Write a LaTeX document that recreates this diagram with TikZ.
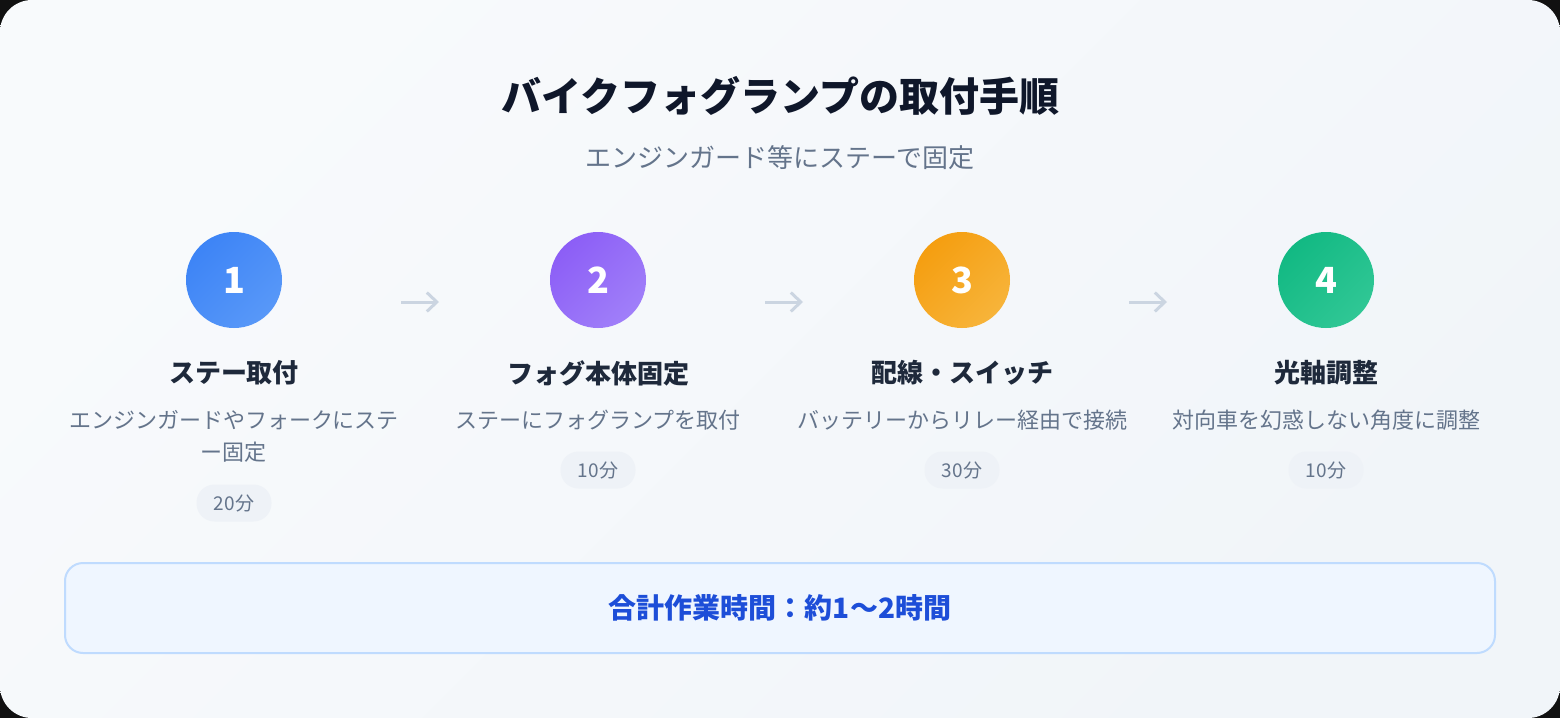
\documentclass[tikz,border=0pt]{standalone}
\usepackage{fontspec}
\setmainfont{Noto Sans CJK JP}
\usetikzlibrary{arrows.meta}

\definecolor{cornerbg}{HTML}{111111}
\definecolor{bgA}{HTML}{F8FAFC}
\definecolor{bgB}{HTML}{F1F5F9}
\definecolor{titleink}{HTML}{0F172A}
\definecolor{headink}{HTML}{1E293B}
\definecolor{slate}{HTML}{64748B}
\definecolor{badgebg}{HTML}{EEF2F7}
\definecolor{arrowgray}{HTML}{CBD5E1}
\definecolor{blueA}{HTML}{3D84F6}
\definecolor{blueB}{HTML}{5898F8}
\definecolor{purpleA}{HTML}{8C5EF6}
\definecolor{purpleB}{HTML}{A07FF9}
\definecolor{orangeA}{HTML}{F59E10}
\definecolor{orangeB}{HTML}{F7B43A}
\definecolor{greenA}{HTML}{12B983}
\definecolor{greenB}{HTML}{30C795}
\definecolor{totalfill}{HTML}{EFF6FF}
\definecolor{totalline}{HTML}{BFDBFE}
\definecolor{totalink}{HTML}{1D4ED8}

\begin{document}
\begin{tikzpicture}[x=0.5pt,y=-0.5pt,
  stepnum/.style 2 args={circle,minimum size=48pt,inner sep=0pt,top color=#1,bottom color=#2,shading angle=45,text=white,font=\bfseries\fontsize{18}{18}\selectfont},
  steptitle/.style={text=headink,font=\bfseries\fontsize{13}{13}\selectfont,inner sep=0pt},
  stepdesc/.style={text=slate,font=\fontsize{11}{16}\selectfont,align=center,inner sep=0pt},
  badge/.style={fill=badgebg,rounded corners=9pt,minimum width=37.5pt,minimum height=18.5pt,inner sep=0pt,text=slate,font=\fontsize{9.5}{10}\selectfont},
  flowarrow/.style={draw=arrowgray,line width=1.5pt,-{Straight Barb[length=5pt,width=9.5pt]}}]

\useasboundingbox (0,0) rectangle (1560,718);
\fill[cornerbg] (0,0) rectangle (1560,718);
\shade[rounded corners=16pt,top color=bgA,bottom color=bgB,shading angle=45] (0,0) rectangle (1560,718);

\node (title) at (780,96) [text=titleink,font=\bfseries\fontsize{20}{20}\selectfont] {バイクフォグランプの取付手順};
\node (sub) at (780,158) [text=slate,font=\fontsize{13}{13}\selectfont] {エンジンガード等にステーで固定};

% steps
\node (S1) at (234,280) [stepnum={blueA}{blueB}] {1};
\node (S2) at (598,280) [stepnum={purpleA}{purpleB}] {2};
\node (S3) at (962,280) [stepnum={orangeA}{orangeB}] {3};
\node (S4) at (1326,280) [stepnum={greenA}{greenB}] {4};

\node (T1) at (234,373) [steptitle] {ステー取付};
\node (T2) at (598,373) [steptitle] {フォグ本体固定};
\node (T3) at (962,373) [steptitle] {配線・スイッチ};
\node (T4) at (1326,373) [steptitle] {光軸調整};

\node (D1) at (234,436) [stepdesc] {エンジンガードやフォークにステ\\ー固定};
\node (D2) at (598,420) [stepdesc] {ステーにフォグランプを取付};
\node (D3) at (962,420) [stepdesc] {バッテリーからリレー経由で接続};
\node (D4) at (1326,420) [stepdesc] {対向車を幻惑しない角度に調整};

\node (B1) at (234,503) [badge] {20分};
\node (B2) at (598,470) [badge] {10分};
\node (B3) at (962,470) [badge] {30分};
\node (B4) at (1326,470) [badge] {10分};

% arrows between steps
\coordinate (A1s) at (401,302); \coordinate (A1e) at (439,302);
\coordinate (A2s) at (765,302); \coordinate (A2e) at (803,302);
\coordinate (A3s) at (1129,302); \coordinate (A3e) at (1167,302);
\draw[flowarrow] (A1s) -- (A1e);
\draw[flowarrow] (A2s) -- (A2e);
\draw[flowarrow] (A3s) -- (A3e);

\node (total) at (780,608) [draw=totalline,line width=1pt,fill=totalfill,rounded corners=9pt,minimum width=715pt,minimum height=45pt,text=totalink,font=\bfseries\fontsize{14}{14}\selectfont] {合計作業時間：約1〜2時間};

\end{tikzpicture}
\end{document}
